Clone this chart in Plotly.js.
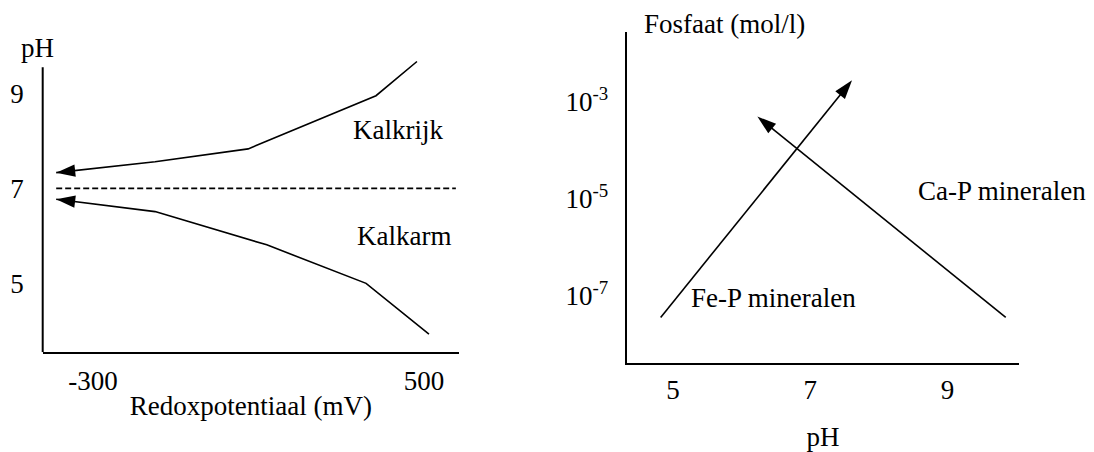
<!DOCTYPE html>
<html>
<head>
<meta charset="utf-8">
<script src="https://cdn.plot.ly/plotly-3.0.1.min.js"></script>
<style>html,body{margin:0;padding:0;background:#fff;}#chart{width:1094px;height:452px;}</style>
</head>
<body>
<div id="chart"></div>
<script>
// ---- data (left panel: pH vs redox potential) ----
const kalkrijkX = [483, 384, 75, -150, -389];
const kalkrijkY = [9.67, 8.95, 7.83, 7.56, 7.33];
const kalkarmX = [512, 360, 120, -150, -389];
const kalkarmY = [3.93, 5.0, 5.81, 6.51, 6.77];
const neutralX = [-389, 577];
const neutralY = [7, 7];
const leftXTicks = [-300, 500];
const leftXTickText = ['-300', '500'];
const leftYTicks = [5, 7, 9];

// ---- data (right panel: phosphate vs pH) ----
const fePpH = [4.82, 7.61];
const fePConc = [3.6e-8, 2.8e-3];
const caPpH = [9.85, 6.23];
const caPConc = [3.6e-8, 5.0e-4];
const rightXTicks = [5, 7, 9];
const rightYTicks = [1e-7, 1e-5, 1e-3];
const rightYTickText = ['10<sup>-7</sup>', '10<sup>-5</sup>', '10<sup>-3</sup>'];

// ---- labels ----
const labelKalkrijk = 'Kalkrijk';
const labelKalkarm = 'Kalkarm';
const labelFeP = 'Fe-P mineralen';
const labelCaP = 'Ca-P mineralen';

const W = 1094, H = 452;
const px = v => v / W;
const py = v => 1 - v / H;
const FONT = {family: 'Liberation Serif, Times New Roman, serif', size: 27, color: '#000'};

function arrowSizes(n, s) { const a = new Array(n).fill(0); a[n - 1] = s; return a; }
function arrowSymbols(n) { const a = new Array(n).fill('circle'); a[n - 1] = 'arrow'; return a; }

const lineStyle = {color: '#000', width: 1.6};
const ARROW = 20;

function arrowMarker(n) {
  return {symbol: arrowSymbols(n), size: arrowSizes(n, ARROW), angleref: 'previous', color: '#000', opacity: 1,
          line: {width: 0}};
}

const traces = [
  {x: kalkrijkX, y: kalkrijkY, xaxis: 'x', yaxis: 'y', mode: 'lines+markers', line: lineStyle, marker: arrowMarker(kalkrijkX.length)},
  {x: kalkarmX, y: kalkarmY, xaxis: 'x', yaxis: 'y', mode: 'lines+markers', line: lineStyle, marker: arrowMarker(kalkarmX.length)},
  {x: neutralX, y: neutralY, xaxis: 'x', yaxis: 'y', mode: 'lines', line: {color: '#000', width: 1.6, dash: '6px,3px'}},
  {x: fePpH, y: fePConc, xaxis: 'x2', yaxis: 'y2', mode: 'lines+markers', line: lineStyle, marker: arrowMarker(fePpH.length)},
  {x: caPpH, y: caPConc, xaxis: 'x2', yaxis: 'y2', mode: 'lines+markers', line: lineStyle, marker: arrowMarker(caPpH.length)}
];

const axisCommon = {showgrid: false, zeroline: false, ticks: '', tickfont: FONT, fixedrange: true, automargin: false};

const layout = {
  width: W, height: H,
  margin: {l: 0, r: 0, t: 0, b: 0},
  paper_bgcolor: '#fff', plot_bgcolor: 'rgba(0,0,0,0)',
  showlegend: false, hovermode: false,
  font: FONT,
  xaxis: Object.assign({}, axisCommon, {
    domain: [px(42.7), px(459)], range: [-421.6, 584.6],
    tickvals: leftXTicks, ticktext: leftXTickText, showline: true, linecolor: '#000', linewidth: 2,
    ticklabelstandoff: 3, anchor: 'y',
    title: {text: 'Redoxpotentiaal (mV)', font: FONT, standoff: 2}
  }),
  yaxis: Object.assign({}, axisCommon, {
    domain: [py(352.2), py(57.7)], range: [3.55, 9.75],
    tickvals: leftYTicks, showline: false, ticklabelstandoff: 18, anchor: 'x'
  }),
  xaxis2: Object.assign({}, axisCommon, {
    domain: [px(626.7), px(1019.3)], range: [4.325, 10.048],
    tickvals: rightXTicks, showline: true, linecolor: '#000', linewidth: 2,
    ticklabelstandoff: 1, anchor: 'y2',
    title: {text: 'pH', font: FONT, standoff: 24}
  }),
  yaxis2: Object.assign({}, axisCommon, {
    type: 'log', domain: [py(363.3), py(31.7)], range: [-8.39, -1.55],
    tickvals: rightYTicks, ticktext: rightYTickText,
    showline: true, linecolor: '#000', linewidth: 2, ticklabelstandoff: 11, anchor: 'x2'
  }),
  shapes: [
    {type: 'line', xref: 'x domain', yref: 'y', x0: 0, x1: 0, y0: 3.55, y1: 9.55,
     line: {color: '#000', width: 2}}
  ],
  annotations: [
    {text: 'pH', xref: 'paper', yref: 'paper', x: px(37.5), y: py(48), xanchor: 'center', yanchor: 'middle', showarrow: false, font: FONT},
    {text: 'Fosfaat (mol/l)', xref: 'paper', yref: 'paper', x: px(724), y: py(24), xanchor: 'center', yanchor: 'middle', showarrow: false, font: FONT},
    {text: labelKalkrijk, xref: 'x', yref: 'y', x: 437, y: 8.22, xanchor: 'center', yanchor: 'middle', showarrow: false, font: FONT},
    {text: labelKalkarm, xref: 'x', yref: 'y', x: 452, y: 5.99, xanchor: 'center', yanchor: 'middle', showarrow: false, font: FONT},
    {text: labelFeP, xref: 'x2', yref: 'y2', x: 6.47, y: -7.05, xanchor: 'center', yanchor: 'middle', showarrow: false, font: FONT},
    {text: labelCaP, xref: 'x2', yref: 'y2', x: 9.80, y: -4.83, xanchor: 'center', yanchor: 'middle', showarrow: false, font: FONT}
  ]
};

Plotly.newPlot('chart', traces, layout, {displayModeBar: false, staticPlot: true});
</script>
</body>
</html>
